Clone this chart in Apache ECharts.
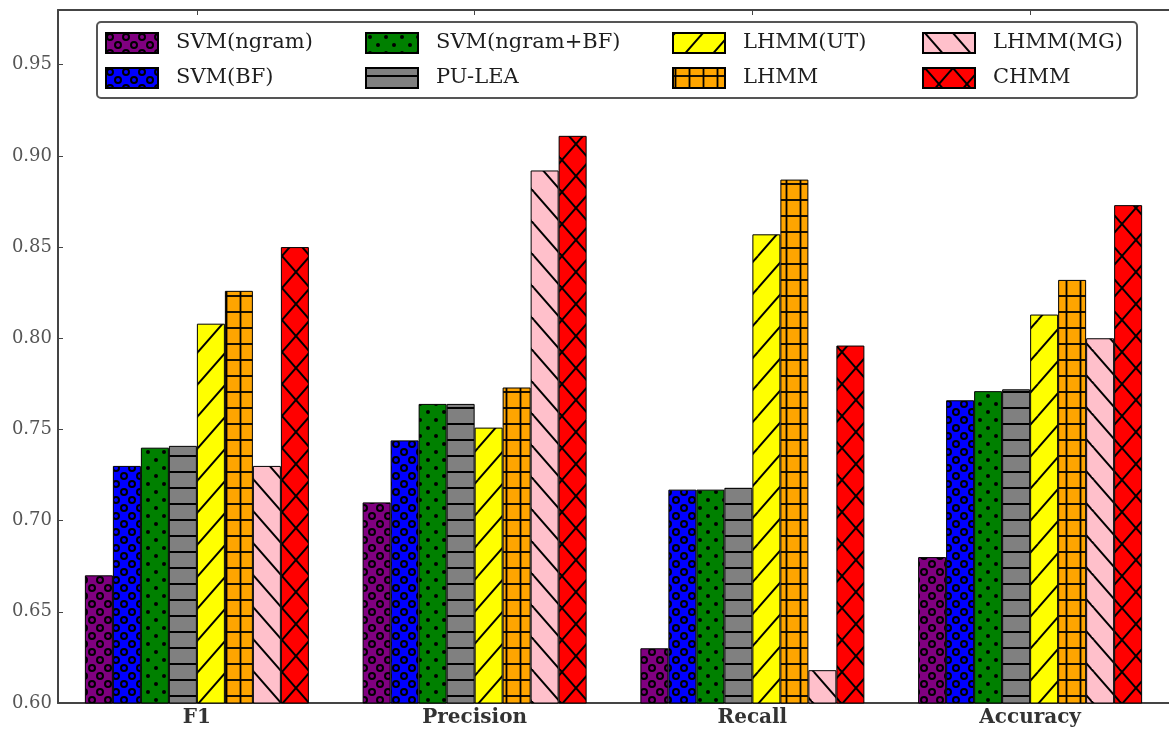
<!DOCTYPE html>
<html>
<head>
<meta charset="utf-8">
<script src="https://cdn.jsdelivr.net/npm/echarts@6/dist/echarts.min.js"></script>
<style>
html,body{margin:0;padding:0;background:#fff;}
#chart{width:1169px;height:730px;}
</style>
</head>
<body>
<div id="chart"></div>
<script>
// ---- data ----
const categories = ['F1', 'Precision', 'Recall', 'Accuracy'];
const seriesNames = ['SVM(ngram)', 'SVM(BF)', 'SVM(ngram+BF)', 'PU-LEA', 'LHMM(UT)', 'LHMM', 'LHMM(MG)', 'CHMM'];
const svmNgram   = [0.670, 0.710, 0.630, 0.680];
const svmBF      = [0.730, 0.744, 0.717, 0.766];
const svmNgramBF = [0.740, 0.764, 0.717, 0.771];
const puLea      = [0.741, 0.764, 0.718, 0.772];
const lhmmUT     = [0.808, 0.751, 0.857, 0.813];
const lhmm       = [0.826, 0.773, 0.887, 0.832];
const lhmmMG     = [0.730, 0.892, 0.618, 0.800];
const chmm       = [0.850, 0.911, 0.796, 0.873];
const seriesValues = [svmNgram, svmBF, svmNgramBF, puLea, lhmmUT, lhmm, lhmmMG, chmm];

// ---- hatch patterns ----
function tile(w, h, bg, draw) {
  const c = document.createElement('canvas');
  c.width = w; c.height = h;
  const g = c.getContext('2d');
  g.fillStyle = bg; g.fillRect(0, 0, w, h);
  g.strokeStyle = '#000'; g.fillStyle = '#000';
  for (let dx = -w; dx <= w; dx += w) {
    for (let dy = -h; dy <= h; dy += h) {
      g.save(); g.translate(dx, dy); draw(g, w, h); g.restore();
    }
  }
  return { image: c, repeat: 'repeat' };
}
function circles(g) {
  g.lineWidth = 2;
  [[4, 4], [12, 12]].forEach(p => { g.beginPath(); g.arc(p[0], p[1], 3, 0, Math.PI * 2); g.stroke(); });
}
function dots(g) {
  [[4, 4], [12, 12]].forEach(p => { g.beginPath(); g.arc(p[0], p[1], 2, 0, Math.PI * 2); g.fill(); });
}
function hline(g) { g.lineWidth = 2; g.beginPath(); g.moveTo(0, 8); g.lineTo(16, 8); g.stroke(); }
function plus(g, w, h) {
  g.lineWidth = 1.8;
  g.beginPath(); g.moveTo(2.5, 0); g.lineTo(2.5, h); g.stroke();
  g.beginPath(); g.moveTo(0, 8); g.lineTo(w, 8); g.stroke();
}
function fslash(off) {
  return function (g, w, h) {
    g.lineWidth = 1.9;
    g.beginPath(); g.moveTo(off, h); g.lineTo(off + w, 0); g.stroke();
  };
}
function bslash(off) {
  return function (g, w, h) {
    g.lineWidth = 1.9;
    g.beginPath(); g.moveTo(off, 0); g.lineTo(off + w, h); g.stroke();
  };
}
function cross(off) {
  return function (g, w, h) { fslash(off)(g, w, h); bslash(off)(g, w, h); };
}

const fills = [
  tile(16, 16, '#800080', circles),
  tile(16, 16, '#0000ff', circles),
  tile(16, 16, '#008000', dots),
  tile(16, 16, '#808080', hline),
  tile(28, 32, '#ffff00', fslash(2)),
  tile(14, 16, '#ffa500', plus),
  tile(28, 32, '#ffc0cb', bslash(2)),
  tile(28, 32, '#ff0000', cross(2))
];

const serifFont = 'DejaVu Serif';

const series = seriesNames.map((name, i) => ({
  name: name,
  type: 'bar',
  data: seriesValues[i],
  barWidth: 28,
  barGap: '0%',
  itemStyle: { color: fills[i], borderColor: '#000', borderWidth: 1 },
  emphasis: { disabled: true }
}));

const legendCols = [105, 365, 672, 922];
const legends = legendCols.map((x, k) => ({
  data: [seriesNames[2 * k], seriesNames[2 * k + 1]],
  orient: 'vertical',
  left: x,
  top: 32,
  padding: 0,
  itemWidth: 52,
  itemHeight: 20,
  itemGap: 13,
  icon: 'rect',
  selectedMode: false,
  textStyle: { fontFamily: serifFont, fontSize: 21, color: '#1e1e1e', padding: [0, 0, 0, 13] }
}));

const chart = echarts.init(document.getElementById('chart'), null, { renderer: 'canvas' });
chart.setOption({
  animation: false,
  backgroundColor: '#fff',
  grid: { left: 58, right: -9, top: 10, bottom: 27, containLabel: false },
  legend: legends,
  graphic: [{
    type: 'rect',
    z: 3,
    shape: { x: 97, y: 22, width: 1040, height: 76, r: 4 },
    style: { fill: '#fff', stroke: '#555', lineWidth: 2 }
  }],
  xAxis: [{
    type: 'category',
    data: categories,
    position: 'bottom',
    axisLine: { lineStyle: { color: '#444', width: 2 } },
    axisTick: { show: false },
    axisLabel: { fontFamily: serifFont, fontSize: 20, fontWeight: 'bold', color: '#333', margin: 5 }
  }, {
    type: 'category',
    data: categories,
    position: 'top',
    axisLine: { lineStyle: { color: '#444', width: 2 } },
    axisTick: { show: true, inside: true, length: 5, alignWithLabel: true, lineStyle: { color: '#444' } },
    axisLabel: { show: false }
  }],
  yAxis: {
    type: 'value',
    min: 0.6,
    max: 0.98,
    interval: 0.05,
    axisLine: { show: true, lineStyle: { color: '#444', width: 2 } },
    axisTick: { show: true, inside: true, length: 5, lineStyle: { color: '#444' } },
    splitLine: { show: false },
    axisLabel: {
      fontFamily: serifFont, fontSize: 18, color: '#555', margin: 6,
      showMaxLabel: false,
      formatter: v => v.toFixed(2)
    }
  },
  series: series
});
</script>
</body>
</html>
